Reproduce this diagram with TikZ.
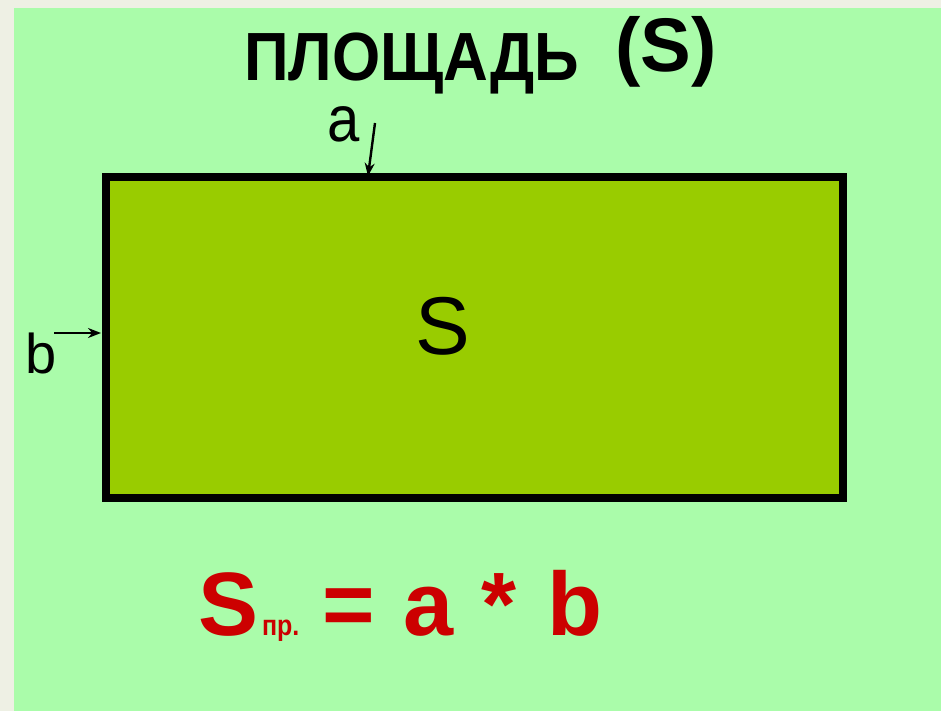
\documentclass[tikz,border=0pt]{standalone}
\usepackage{fontspec}
\setmainfont{Liberation Sans}
\usetikzlibrary{arrows.meta}
\definecolor{bggreen}{HTML}{AAFCAA}
\definecolor{strip}{HTML}{EEF0E4}
\definecolor{olive}{HTML}{99CC00}
\definecolor{formred}{HTML}{CC0000}
\tikzset{
  txt/.style={inner sep=0pt, outer sep=0pt},
  arr/.style={line width=2.4pt, -{Stealth[length=13pt,width=10pt]}},
  frm/.style={txt, text=formred, font=\fontsize{90}{90}\selectfont\bfseries, anchor=base west}
}
\begin{document}
\begin{tikzpicture}[x=1pt,y=-1pt]
\useasboundingbox (0,0) rectangle (941,711);
\fill[strip] (0,0) rectangle (941,711);
\fill[bggreen] (14,8) rectangle (941,711);
% title
\node[txt, anchor=base west, font=\fontsize{62}{62}\selectfont\bfseries] (title) at (244,81) {\scalebox{1}[1.1]{ПЛОЩАДЬ}};
\node[txt, anchor=base west, font=\fontsize{76}{76}\selectfont\bfseries] (titleS) at (615,72) {(S)};
% rectangle
\coordinate (r1) at (106,177);
\coordinate (r2) at (843,498);
\draw[line width=8pt, fill=olive] (r1) rectangle (r2);
\node[txt, anchor=base, font=\fontsize{82}{82}\selectfont] (S) at (443,354) {S};
% labels
\node[txt, anchor=base west, font=\fontsize{58}{58}\selectfont] (la) at (327,142) {\scalebox{1}[1.12]{a}};
\node[txt, anchor=base west, font=\fontsize{56}{56}\selectfont] (lb) at (25,373) {b};
\coordinate (atail) at (375,123);
\coordinate (ahead) at (368,176);
\coordinate (btail) at (54,333);
\coordinate (bhead) at (101,333);
\draw[arr] (atail) -- (ahead);
\draw[arr] (btail) -- (bhead);
% formula
\node[frm] (fS) at (198,635) {S};
\node[txt, text=formred, anchor=base west, font=\fontsize{25}{25}\selectfont\bfseries] (fsub) at (262,635) {\scalebox{1}[1.15]{пр.}};
\node[frm] (feq) at (322,635) {=};
\node[frm] (fa) at (403,635) {a};
\node[frm] (fst) at (481,635) {*};
\node[frm] (fb) at (547,635) {b};
\end{tikzpicture}
\end{document}
